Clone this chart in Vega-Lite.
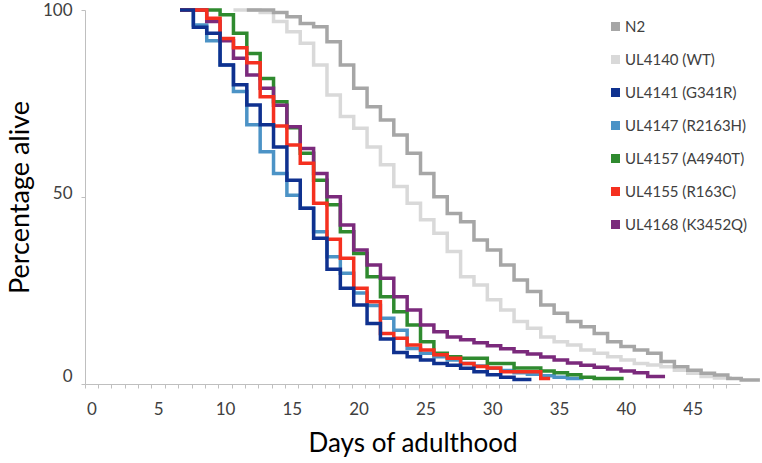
{
  "$schema": "https://vega.github.io/schema/vega-lite/v6.json",
  "width": 655,
  "height": 374,
  "autosize": "none",
  "padding": {"left": 85, "top": 10, "right": 22, "bottom": 79},
  "background": "white",
  "config": {
    "view": {"stroke": null},
    "font": "Lato",
    "axis": {"grid": false, "domainColor": "#bfbfbf", "tickColor": "#bfbfbf", "labelFont": "Lato", "titleFont": "Lato", "labelColor": "#404040", "titleColor": "#000000", "titleFontWeight": "normal"}
  },
  "data": {
    "values": [
      {"s": "UL4140 (WT)", "d": 11, "p": 100}, {"s": "UL4140 (WT)", "d": 13, "p": 99.3}, {"s": "UL4140 (WT)", "d": 14, "p": 96.9}, {"s": "UL4140 (WT)", "d": 15, "p": 94.2}, {"s": "UL4140 (WT)", "d": 16, "p": 91.1}, {"s": "UL4140 (WT)", "d": 17, "p": 85.3}, {"s": "UL4140 (WT)", "d": 18, "p": 77.3}, {"s": "UL4140 (WT)", "d": 19, "p": 71.5}, {"s": "UL4140 (WT)", "d": 20, "p": 68.4}, {"s": "UL4140 (WT)", "d": 21, "p": 63.4}, {"s": "UL4140 (WT)", "d": 22, "p": 58.6}, {"s": "UL4140 (WT)", "d": 23, "p": 52.8}, {"s": "UL4140 (WT)", "d": 24, "p": 48.3}, {"s": "UL4140 (WT)", "d": 25, "p": 43.9}, {"s": "UL4140 (WT)", "d": 26, "p": 40.3}, {"s": "UL4140 (WT)", "d": 27, "p": 35.4}, {"s": "UL4140 (WT)", "d": 28, "p": 28.7}, {"s": "UL4140 (WT)", "d": 29, "p": 26.5}, {"s": "UL4140 (WT)", "d": 30, "p": 22.5}, {"s": "UL4140 (WT)", "d": 31, "p": 19.8}, {"s": "UL4140 (WT)", "d": 32, "p": 16.7}, {"s": "UL4140 (WT)", "d": 33, "p": 14.9}, {"s": "UL4140 (WT)", "d": 34, "p": 12.6}, {"s": "UL4140 (WT)", "d": 35, "p": 11.3}, {"s": "UL4140 (WT)", "d": 36, "p": 10.4}, {"s": "UL4140 (WT)", "d": 37, "p": 9.1}, {"s": "UL4140 (WT)", "d": 38, "p": 8.2}, {"s": "UL4140 (WT)", "d": 39, "p": 7.3}, {"s": "UL4140 (WT)", "d": 40, "p": 6.4}, {"s": "UL4140 (WT)", "d": 41, "p": 5.5}, {"s": "UL4140 (WT)", "d": 42, "p": 5.1}, {"s": "UL4140 (WT)", "d": 43, "p": 4.6}, {"s": "UL4140 (WT)", "d": 44, "p": 3.7}, {"s": "UL4140 (WT)", "d": 45, "p": 2.9}, {"s": "UL4140 (WT)", "d": 46, "p": 2.0}, {"s": "UL4140 (WT)", "d": 47, "p": 1.6}, {"s": "UL4140 (WT)", "d": 48.3, "p": 1.6},

      {"s": "N2", "d": 12, "p": 100}, {"s": "N2", "d": 14, "p": 99.3}, {"s": "N2", "d": 15, "p": 98.2}, {"s": "N2", "d": 16, "p": 96.4}, {"s": "N2", "d": 17, "p": 95.5}, {"s": "N2", "d": 18, "p": 91.5}, {"s": "N2", "d": 19, "p": 85.3}, {"s": "N2", "d": 20, "p": 79.1}, {"s": "N2", "d": 21, "p": 74.1}, {"s": "N2", "d": 22, "p": 70.6}, {"s": "N2", "d": 23, "p": 66.6}, {"s": "N2", "d": 24, "p": 61.7}, {"s": "N2", "d": 25, "p": 56.3}, {"s": "N2", "d": 26, "p": 50.1}, {"s": "N2", "d": 27, "p": 45.6}, {"s": "N2", "d": 28, "p": 43.4}, {"s": "N2", "d": 29, "p": 38.5}, {"s": "N2", "d": 30, "p": 35.8}, {"s": "N2", "d": 31, "p": 31.8}, {"s": "N2", "d": 32, "p": 27.8}, {"s": "N2", "d": 33, "p": 24.7}, {"s": "N2", "d": 34, "p": 21.1}, {"s": "N2", "d": 35, "p": 18.9}, {"s": "N2", "d": 36, "p": 16.7}, {"s": "N2", "d": 37, "p": 15.3}, {"s": "N2", "d": 38, "p": 13.5}, {"s": "N2", "d": 39, "p": 11.3}, {"s": "N2", "d": 40, "p": 10.0}, {"s": "N2", "d": 41, "p": 9.1}, {"s": "N2", "d": 42, "p": 8.2}, {"s": "N2", "d": 43, "p": 6.0}, {"s": "N2", "d": 44, "p": 4.6}, {"s": "N2", "d": 45, "p": 3.7}, {"s": "N2", "d": 46, "p": 2.9}, {"s": "N2", "d": 47, "p": 2.4}, {"s": "N2", "d": 48, "p": 1.5}, {"s": "N2", "d": 49, "p": 1.1}, {"s": "N2", "d": 50.4, "p": 1.1},

      {"s": "UL4147 (R2163H)", "d": 7, "p": 100}, {"s": "UL4147 (R2163H)", "d": 8, "p": 96.0}, {"s": "UL4147 (R2163H)", "d": 9, "p": 91.8}, {"s": "UL4147 (R2163H)", "d": 10, "p": 85.3}, {"s": "UL4147 (R2163H)", "d": 11, "p": 78.2}, {"s": "UL4147 (R2163H)", "d": 12, "p": 69.3}, {"s": "UL4147 (R2163H)", "d": 13, "p": 62.1}, {"s": "UL4147 (R2163H)", "d": 14, "p": 56.3}, {"s": "UL4147 (R2163H)", "d": 15, "p": 50.5}, {"s": "UL4147 (R2163H)", "d": 16, "p": 47.0}, {"s": "UL4147 (R2163H)", "d": 17, "p": 40.7}, {"s": "UL4147 (R2163H)", "d": 18, "p": 34.0}, {"s": "UL4147 (R2163H)", "d": 19, "p": 29.6}, {"s": "UL4147 (R2163H)", "d": 20, "p": 24.3}, {"s": "UL4147 (R2163H)", "d": 21, "p": 21.0}, {"s": "UL4147 (R2163H)", "d": 22, "p": 17.6}, {"s": "UL4147 (R2163H)", "d": 23, "p": 14.4}, {"s": "UL4147 (R2163H)", "d": 24, "p": 9.5}, {"s": "UL4147 (R2163H)", "d": 25, "p": 8.2}, {"s": "UL4147 (R2163H)", "d": 26, "p": 7.3}, {"s": "UL4147 (R2163H)", "d": 27, "p": 6.4}, {"s": "UL4147 (R2163H)", "d": 28, "p": 5.5}, {"s": "UL4147 (R2163H)", "d": 29, "p": 4.8}, {"s": "UL4147 (R2163H)", "d": 30, "p": 4.2}, {"s": "UL4147 (R2163H)", "d": 31, "p": 3.6}, {"s": "UL4147 (R2163H)", "d": 32, "p": 3.0}, {"s": "UL4147 (R2163H)", "d": 33, "p": 2.6}, {"s": "UL4147 (R2163H)", "d": 34, "p": 2.2}, {"s": "UL4147 (R2163H)", "d": 35, "p": 1.8}, {"s": "UL4147 (R2163H)", "d": 36, "p": 1.5}, {"s": "UL4147 (R2163H)", "d": 37.2, "p": 1.5},

      {"s": "UL4157 (A4940T)", "d": 7, "p": 100}, {"s": "UL4157 (A4940T)", "d": 10, "p": 98.7}, {"s": "UL4157 (A4940T)", "d": 11, "p": 93.8}, {"s": "UL4157 (A4940T)", "d": 12, "p": 88.4}, {"s": "UL4157 (A4940T)", "d": 13, "p": 81.7}, {"s": "UL4157 (A4940T)", "d": 14, "p": 75.5}, {"s": "UL4157 (A4940T)", "d": 15, "p": 68.5}, {"s": "UL4157 (A4940T)", "d": 16, "p": 61.7}, {"s": "UL4157 (A4940T)", "d": 17, "p": 54.5}, {"s": "UL4157 (A4940T)", "d": 18, "p": 47.9}, {"s": "UL4157 (A4940T)", "d": 19, "p": 40.7}, {"s": "UL4157 (A4940T)", "d": 20, "p": 34.9}, {"s": "UL4157 (A4940T)", "d": 21, "p": 28.7}, {"s": "UL4157 (A4940T)", "d": 22, "p": 23.3}, {"s": "UL4157 (A4940T)", "d": 23, "p": 19.3}, {"s": "UL4157 (A4940T)", "d": 24, "p": 15.8}, {"s": "UL4157 (A4940T)", "d": 25, "p": 11.3}, {"s": "UL4157 (A4940T)", "d": 26, "p": 8.2}, {"s": "UL4157 (A4940T)", "d": 27, "p": 7.3}, {"s": "UL4157 (A4940T)", "d": 28, "p": 6.9}, {"s": "UL4157 (A4940T)", "d": 30, "p": 5.5}, {"s": "UL4157 (A4940T)", "d": 32, "p": 4.3}, {"s": "UL4157 (A4940T)", "d": 34, "p": 3.5}, {"s": "UL4157 (A4940T)", "d": 35, "p": 3.0}, {"s": "UL4157 (A4940T)", "d": 36, "p": 2.5}, {"s": "UL4157 (A4940T)", "d": 37, "p": 1.8}, {"s": "UL4157 (A4940T)", "d": 38, "p": 1.5}, {"s": "UL4157 (A4940T)", "d": 40.2, "p": 1.5},

      {"s": "UL4168 (K3452Q)", "d": 7, "p": 100}, {"s": "UL4168 (K3452Q)", "d": 9, "p": 96.9}, {"s": "UL4168 (K3452Q)", "d": 10, "p": 91.8}, {"s": "UL4168 (K3452Q)", "d": 11, "p": 87.1}, {"s": "UL4168 (K3452Q)", "d": 12, "p": 82.6}, {"s": "UL4168 (K3452Q)", "d": 13, "p": 79.1}, {"s": "UL4168 (K3452Q)", "d": 14, "p": 74.5}, {"s": "UL4168 (K3452Q)", "d": 15, "p": 68.8}, {"s": "UL4168 (K3452Q)", "d": 16, "p": 63.0}, {"s": "UL4168 (K3452Q)", "d": 17, "p": 56.3}, {"s": "UL4168 (K3452Q)", "d": 18, "p": 50.1}, {"s": "UL4168 (K3452Q)", "d": 19, "p": 42.5}, {"s": "UL4168 (K3452Q)", "d": 20, "p": 35.8}, {"s": "UL4168 (K3452Q)", "d": 21, "p": 31.8}, {"s": "UL4168 (K3452Q)", "d": 22, "p": 28.3}, {"s": "UL4168 (K3452Q)", "d": 23, "p": 23.3}, {"s": "UL4168 (K3452Q)", "d": 24, "p": 19.8}, {"s": "UL4168 (K3452Q)", "d": 25, "p": 15.8}, {"s": "UL4168 (K3452Q)", "d": 26, "p": 14.0}, {"s": "UL4168 (K3452Q)", "d": 27, "p": 12.6}, {"s": "UL4168 (K3452Q)", "d": 28, "p": 11.8}, {"s": "UL4168 (K3452Q)", "d": 29, "p": 11.0}, {"s": "UL4168 (K3452Q)", "d": 30, "p": 10.2}, {"s": "UL4168 (K3452Q)", "d": 31, "p": 9.4}, {"s": "UL4168 (K3452Q)", "d": 32, "p": 8.6}, {"s": "UL4168 (K3452Q)", "d": 33, "p": 8.0}, {"s": "UL4168 (K3452Q)", "d": 34, "p": 7.2}, {"s": "UL4168 (K3452Q)", "d": 35, "p": 6.4}, {"s": "UL4168 (K3452Q)", "d": 36, "p": 5.6}, {"s": "UL4168 (K3452Q)", "d": 37, "p": 5.0}, {"s": "UL4168 (K3452Q)", "d": 38, "p": 4.5}, {"s": "UL4168 (K3452Q)", "d": 39, "p": 4.0}, {"s": "UL4168 (K3452Q)", "d": 40, "p": 3.5}, {"s": "UL4168 (K3452Q)", "d": 41, "p": 3.0}, {"s": "UL4168 (K3452Q)", "d": 42, "p": 2.0}, {"s": "UL4168 (K3452Q)", "d": 43.3, "p": 2.0},

      {"s": "UL4155 (R163C)", "d": 7, "p": 100}, {"s": "UL4155 (R163C)", "d": 9, "p": 97.8}, {"s": "UL4155 (R163C)", "d": 10, "p": 92.4}, {"s": "UL4155 (R163C)", "d": 11, "p": 89.9}, {"s": "UL4155 (R163C)", "d": 12, "p": 85.9}, {"s": "UL4155 (R163C)", "d": 13, "p": 76.8}, {"s": "UL4155 (R163C)", "d": 14, "p": 69.0}, {"s": "UL4155 (R163C)", "d": 15, "p": 63.9}, {"s": "UL4155 (R163C)", "d": 16, "p": 59.0}, {"s": "UL4155 (R163C)", "d": 17, "p": 48.3}, {"s": "UL4155 (R163C)", "d": 18, "p": 38.7}, {"s": "UL4155 (R163C)", "d": 19, "p": 33.6}, {"s": "UL4155 (R163C)", "d": 20, "p": 25.6}, {"s": "UL4155 (R163C)", "d": 21, "p": 22.0}, {"s": "UL4155 (R163C)", "d": 22, "p": 13.5}, {"s": "UL4155 (R163C)", "d": 23, "p": 12.2}, {"s": "UL4155 (R163C)", "d": 24, "p": 10.4}, {"s": "UL4155 (R163C)", "d": 25, "p": 9.1}, {"s": "UL4155 (R163C)", "d": 26, "p": 7.8}, {"s": "UL4155 (R163C)", "d": 27, "p": 6.9}, {"s": "UL4155 (R163C)", "d": 28, "p": 5.5}, {"s": "UL4155 (R163C)", "d": 29, "p": 4.7}, {"s": "UL4155 (R163C)", "d": 30, "p": 4.3}, {"s": "UL4155 (R163C)", "d": 31, "p": 3.3}, {"s": "UL4155 (R163C)", "d": 34, "p": 1.5}, {"s": "UL4155 (R163C)", "d": 34.7, "p": 1.5},

      {"s": "UL4141 (G341R)", "d": 7, "p": 100}, {"s": "UL4141 (G341R)", "d": 8, "p": 95.4}, {"s": "UL4141 (G341R)", "d": 9, "p": 93.8}, {"s": "UL4141 (G341R)", "d": 10, "p": 85.3}, {"s": "UL4141 (G341R)", "d": 11, "p": 80.0}, {"s": "UL4141 (G341R)", "d": 12, "p": 74.6}, {"s": "UL4141 (G341R)", "d": 13, "p": 69.3}, {"s": "UL4141 (G341R)", "d": 14, "p": 63.4}, {"s": "UL4141 (G341R)", "d": 15, "p": 54.5}, {"s": "UL4141 (G341R)", "d": 16, "p": 47.0}, {"s": "UL4141 (G341R)", "d": 17, "p": 39.0}, {"s": "UL4141 (G341R)", "d": 18, "p": 30.7}, {"s": "UL4141 (G341R)", "d": 19, "p": 25.6}, {"s": "UL4141 (G341R)", "d": 20, "p": 21.1}, {"s": "UL4141 (G341R)", "d": 21, "p": 16.2}, {"s": "UL4141 (G341R)", "d": 22, "p": 12.0}, {"s": "UL4141 (G341R)", "d": 23, "p": 8.4}, {"s": "UL4141 (G341R)", "d": 24, "p": 7.3}, {"s": "UL4141 (G341R)", "d": 25, "p": 6.4}, {"s": "UL4141 (G341R)", "d": 26, "p": 5.5}, {"s": "UL4141 (G341R)", "d": 27, "p": 5.0}, {"s": "UL4141 (G341R)", "d": 28, "p": 4.2}, {"s": "UL4141 (G341R)", "d": 29, "p": 3.3}, {"s": "UL4141 (G341R)", "d": 30, "p": 2.5}, {"s": "UL4141 (G341R)", "d": 31, "p": 1.8}, {"s": "UL4141 (G341R)", "d": 32, "p": 1.2}, {"s": "UL4141 (G341R)", "d": 33.3, "p": 1.2}
    ]
  },
  "mark": {"type": "line", "interpolate": "step-after", "strokeWidth": 3.5, "clip": false, "strokeCap": "butt"},
  "encoding": {
    "x": {
      "field": "d", "type": "quantitative",
      "scale": {"domain": [-0.11, 48.91], "nice": false, "zero": false},
      "axis": {
        "values": [0,1,2,3,4,5,6,7,8,9,10,11,12,13,14,15,16,17,18,19,20,21,22,23,24,25,26,27,28,29,30,31,32,33,34,35,36,37,38,39,40,41,42,43,44,45,46,47,48,49],
        "tickOffset": -1.8,
        "labelOffset": 6.7,
        "labelExpr": "datum.value % 5 === 0 && datum.value <= 45 ? datum.label : ''",
        "labelFlush": false,
        "labelOverlap": false,
        "tickSize": 4,
        "labelFontSize": 17,
        "labelPadding": 13,
        "title": "Days of adulthood",
        "titleFontSize": 26,
        "titlePadding": 13
      }
    },
    "y": {
      "field": "p", "type": "quantitative",
      "scale": {"domain": [0, 100], "nice": false},
      "axis": {
        "values": [0, 50, 100],
        "tickSize": 4,
        "labelFontSize": 17,
        "labelPadding": 9,
        "labelOffset": {"condition": [{"test": "datum.value === 0", "value": -8}, {"test": "datum.value === 50", "value": -4}], "value": 0},
        "title": "Percentage alive",
        "titleFontSize": 27,
        "titlePadding": 8
      }
    },
    "color": {
      "field": "s", "type": "nominal",
      "scale": {
        "domain": ["N2", "UL4140 (WT)", "UL4141 (G341R)", "UL4147 (R2163H)", "UL4157 (A4940T)", "UL4155 (R163C)", "UL4168 (K3452Q)"],
        "range": ["#a6a6a6", "#d9d9d9", "#0f318f", "#4c93c6", "#2f8a2f", "#f5301f", "#7b2a7c"]
      },
      "legend": {
        "title": null,
        "orient": "none",
        "legendX": 523,
        "legendY": 9,
        "padding": 0,
        "symbolType": "square",
        "symbolSize": 81,
        "symbolStrokeWidth": 0,
        "labelFont": "Lato",
        "labelFontSize": 15,
        "labelColor": "#404040",
        "labelOffset": 2,
        "rowPadding": 17,
        "encode": {"symbols": {"update": {"fill": {"scale": "color", "field": "value"}, "fillOpacity": {"value": 1}}}}
      }
    }
  }
}
